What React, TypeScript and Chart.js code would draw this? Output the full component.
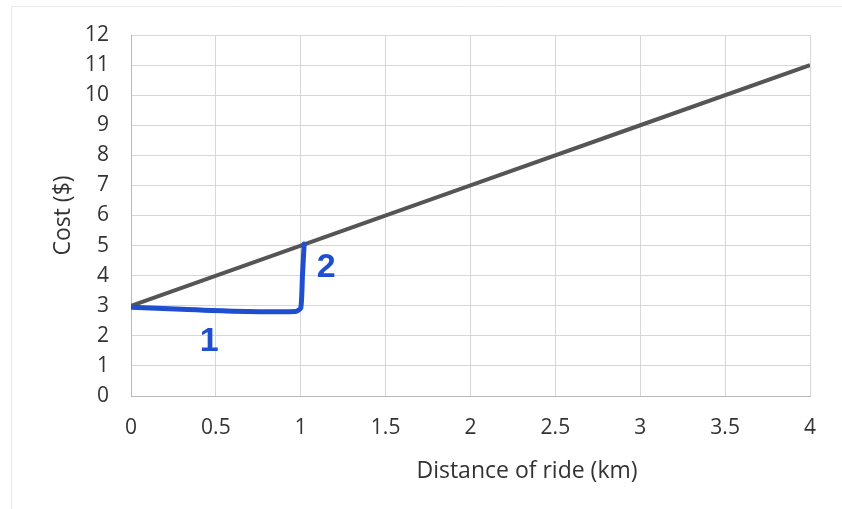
import React, { useEffect, useRef } from "react";
import { Chart, registerables } from "chart.js";

Chart.register(...registerables);

// Data
const distanceKm = [0, 1, 2, 3, 4];
const costDollars = [3, 5, 7, 9, 11];

// Hand-drawn slope triangle (run 1, rise 2)
const triangleX = [0, 0.3, 0.6, 0.97, 1.0, 1.01, 1.02];
const triangleY = [2.95, 2.88, 2.82, 2.81, 2.92, 4.0, 5.05];
const annotationText = ["1", "2"];
const annotationX = [0.46, 1.15];
const annotationY = [1.8, 4.26];

const xTitle = "Distance of ride (km)";
const yTitle = "Cost ($)";

const FONT = "'Open Sans', sans-serif";

export default function App() {
  const ref = useRef<HTMLCanvasElement | null>(null);

  useEffect(() => {
    const canvas = ref.current;
    if (!canvas) return;

    const decor = {
      id: "decor",
      beforeDraw(chart: any) {
        const ctx = chart.ctx;
        ctx.save();
        ctx.fillStyle = "#ffffff";
        ctx.fillRect(0, 0, chart.width, chart.height);
        ctx.strokeStyle = "#d6d6d6";
        ctx.lineWidth = 1;
        ctx.setLineDash([1, 1]);
        ctx.strokeRect(11.5, 6.5, 835, 510);
        ctx.restore();
      },
      afterDraw(chart: any) {
        const ctx = chart.ctx;
        const xs = chart.scales.x;
        const ys = chart.scales.y;
        ctx.save();
        ctx.fillStyle = "#333333";
        ctx.font = `23px ${FONT}`;
        ctx.textAlign = "center";
        ctx.textBaseline = "middle";
        ctx.fillText(xTitle, 527, 471);
        ctx.translate(63, ys.getPixelForValue(6));
        ctx.rotate(-Math.PI / 2);
        ctx.fillText(yTitle, 0, 0);
        ctx.restore();

        ctx.save();
        ctx.fillStyle = "#1f4fd0";
        ctx.font = `bold 34px 'Liberation Sans', sans-serif`;
        ctx.textAlign = "center";
        ctx.textBaseline = "middle";
        annotationText.forEach((t, i) => {
          ctx.fillText(t, xs.getPixelForValue(annotationX[i]), ys.getPixelForValue(annotationY[i]));
        });
        ctx.restore();
      },
    };

    const chart = new Chart(canvas, {
      type: "scatter",
      data: {
        datasets: [
          {
            label: "Cost",
            data: distanceKm.map((d, i) => ({ x: d, y: costDollars[i] })),
            showLine: true,
            borderColor: "#555555",
            borderWidth: 4,
            pointRadius: 0,
            order: 2,
          },
          {
            label: "Slope",
            data: triangleX.map((d, i) => ({ x: d, y: triangleY[i] })),
            showLine: true,
            borderColor: "#1f4fd0",
            borderWidth: 5,
            pointRadius: 0,
            tension: 0.2,
            borderCapStyle: "round",
            borderJoinStyle: "round",
            order: 1,
          },
        ],
      },
      options: {
        animation: false,
        responsive: false,
        layout: { padding: { top: 35, right: 32, left: 0, bottom: 0 } },
        plugins: {
          legend: { display: false },
          tooltip: { enabled: false },
          title: { display: false },
        },
        scales: {
          x: {
            type: "linear",
            min: 0,
            max: 4,
            ticks: {
              stepSize: 0.5,
              padding: 19,
              color: "#333333",
              font: { family: FONT, size: 21 },
              callback: (v: any) => String(v),
            },
            grid: { color: "#d6d6d6", drawTicks: false, lineWidth: 1 },
            border: { color: "#b8b8b8" },
            afterFit(scale: any) {
              scale.height = 113;
            },
          },
          y: {
            type: "linear",
            min: 0,
            max: 12,
            ticks: {
              stepSize: 1,
              padding: 22,
              color: "#333333",
              font: { family: FONT, size: 21 },
            },
            grid: { color: "#d6d6d6", drawTicks: false, lineWidth: 1 },
            border: { color: "#b8b8b8" },
            afterFit(scale: any) {
              scale.width = 131;
            },
          },
        },
      },
      plugins: [decor],
    } as any);

    return () => chart.destroy();
  }, []);

  return (
    <div style={{ position: "fixed", left: 0, top: 0, width: 842, height: 509, background: "#fff" }}>
      <canvas ref={ref} width={842} height={509} style={{ width: 842, height: 509 }} />
    </div>
  );
}
